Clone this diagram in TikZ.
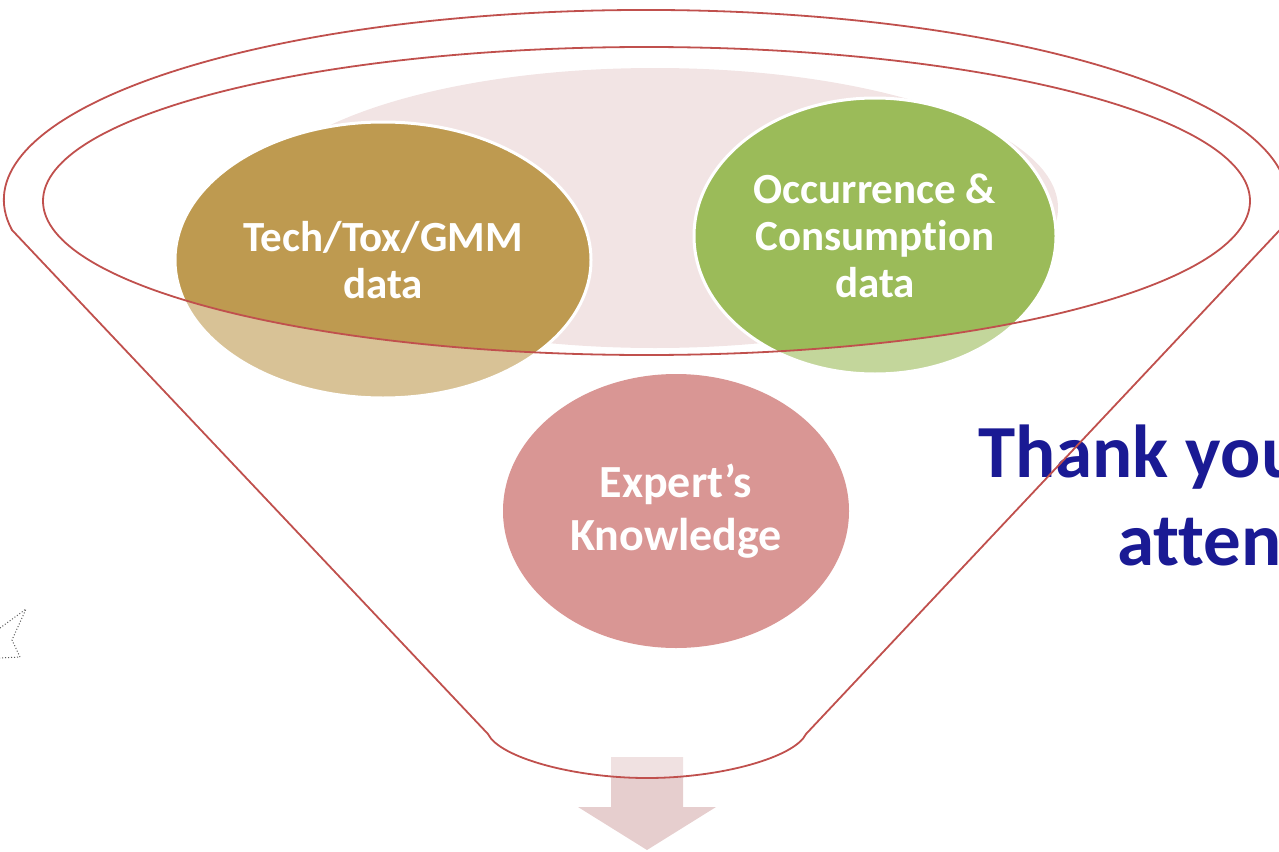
\documentclass[tikz,border=0pt]{standalone}
\usepackage{fontspec}
\setmainfont{Carlito}[Ligatures={TeX,NoCommon}]
\usetikzlibrary{shapes.geometric}
\definecolor{funnelred}{HTML}{C0504D}
\definecolor{goldfill}{HTML}{BE9A50}
\definecolor{greenfill}{HTML}{9BBB59}
\definecolor{rosefill}{HTML}{C0504D}
\definecolor{haze}{HTML}{F2E4E4}
\definecolor{arrowpink}{HTML}{E6CECE}
\definecolor{thanksblue}{HTML}{1A1A94}
\tikzset{
  bubble/.style={ellipse, inner sep=0pt, draw=white, line width=3pt,
    text=white, align=center, font=\bfseries\fontsize{43}{47}\selectfont},
  rim/.style={draw=funnelred, line width=1.8pt},
  thanks/.style={text=thanksblue, inner sep=0pt, anchor=base west,
    font=\bfseries\fontsize{75}{88}\selectfont},
}
\begin{document}
\begin{tikzpicture}[x=1pt,y=-1pt]
\useasboundingbox (0,0) rectangle (1279,851);
\clip (0,0) rectangle (1279,851);

% downward arrow below the funnel
\fill[arrowpink] (611,757) -- (683,757) -- (683,807) -- (716,807)
  -- (647,850) -- (578,807) -- (611,807) -- cycle;

% soft background disc behind the top bubbles
\fill[haze] (655,208) ellipse [x radius=403pt, y radius=140pt];

% the three input bubbles
\node[bubble, fill=goldfill, minimum width=416pt, minimum height=276pt]
  (tech) at (383,260) {Tech/Tox/GMM\\data};
\node[bubble, fill=greenfill, minimum width=362pt, minimum height=276pt]
  (occ) at (875,236) {Occurrence \&\\Consumption\\data};
\node[bubble, fill=rosefill, draw=none, minimum width=346pt, minimum height=274pt,
  font=\bfseries\fontsize{46}{53}\selectfont]
  (exp) at (676,511) {Expert’s\\Knowledge};

% funnel body washes everything below the mouth
\fill[white, fill opacity=0.4, even odd rule]
  (12,230) arc[start angle=189.1, end angle=-9.1, x radius=642pt, y radius=190pt]
  -- (806,734) .. controls (795,757) and (722,778) .. (647,778)
  .. controls (572,778) and (499,757) .. (488,734) -- cycle
  (646.5,201) ellipse [x radius=603.5pt, y radius=154pt];

% closing message
\node[thanks] (thx1) at (978,477) {Thank you};
\node[thanks] (thx2) at (1117,565) {attention};

% funnel outline and mouth
\path[rim]
  (12,230) arc[start angle=189.1, end angle=-9.1, x radius=642pt, y radius=190pt]
  -- (806,734) .. controls (795,757) and (722,778) .. (647,778)
  .. controls (572,778) and (499,757) .. (488,734) -- cycle;
\draw[rim] (646.5,201) ellipse [x radius=603.5pt, y radius=154pt];

% dotted star fragment at the left edge
\draw[gray!70!black, dotted, line width=1pt]
  (0,628) -- (26,609) -- (12,640) -- (20,657) -- (0,658);
\end{tikzpicture}
\end{document}
